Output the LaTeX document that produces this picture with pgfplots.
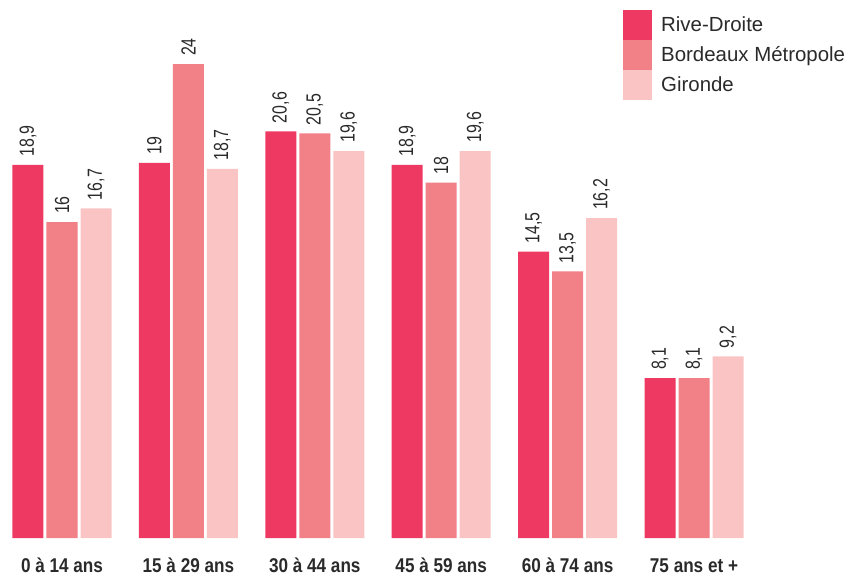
\documentclass[border=0pt]{standalone}
\usepackage{pgfplots}
\pgfplotsset{compat=1.18}
\usepackage{fontspec}
\setmainfont{Liberation Sans}
\newfontfamily\cond[FakeStretch=0.78]{Liberation Sans}
\newfontfamily\condb[FakeStretch=0.86]{Liberation Sans}
\definecolor{rive}{HTML}{EE3A62}
\definecolor{bdx}{HTML}{F28087}
\definecolor{gir}{HTML}{FAC4C4}
\definecolor{txt}{HTML}{2A2A2A}
\begin{document}
\begin{tikzpicture}
\useasboundingbox (0,0) rectangle (858bp,576bp);
\begin{axis}[
  at={(0,38bp)}, anchor=south west,
  scale only axis, width=858bp, height=538bp,
  xmin=-0.4905, xmax=6.2975, ymin=0, ymax=27.25,
  axis line style={draw=none}, tick style={draw=none},
  ytick=\empty,
  xtick={0,1,2,3,4,5},
  xticklabels={0 à 14 ans,15 à 29 ans,30 à 44 ans,45 à 59 ans,60 à 74 ans,75 ans et +},
  xticklabel style={anchor=base, yshift=-30bp, font=\condb\bfseries\fontsize{20}{22}\selectfont, text=txt, inner sep=0pt},
  ybar=3bp, bar width=31bp,
  clip=false,
  nodes near coords,
  /pgf/number format/assume math mode=true,
  /pgf/number format/use comma,
  nodes near coords style={rotate=90, anchor=west, inner xsep=8bp, inner ysep=0pt, font=\cond\fontsize{20.5}{22}\selectfont, text=txt},
  legend image code/.code={\fill[#1] (0bp,-15bp) rectangle (29bp,15bp);},
  legend style={at={(0.7261,0.9814)}, anchor=north west, draw=none, fill=none, inner sep=0pt, row sep=0pt,
    font=\fontsize{20.5}{22}\selectfont, text=txt,
    cells={anchor=west, inner xsep=0pt, inner ysep=0pt}},
  legend cell align=left,
]
\addplot[fill=rive, draw=none] coordinates {(0,18.9) (1,19) (2,20.6) (3,18.9) (4,14.5) (5,8.1)};
\addplot[fill=bdx, draw=none] coordinates {(0,16) (1,24) (2,20.5) (3,18) (4,13.5) (5,8.1)};
\addplot[fill=gir, draw=none] coordinates {(0,16.7) (1,18.7) (2,19.6) (3,19.6) (4,16.2) (5,9.2)};
\legend{\hspace{7bp}Rive-Droite,\hspace{7bp}Bordeaux Métropole,\hspace{7bp}Gironde}
\end{axis}
\end{tikzpicture}
\end{document}
